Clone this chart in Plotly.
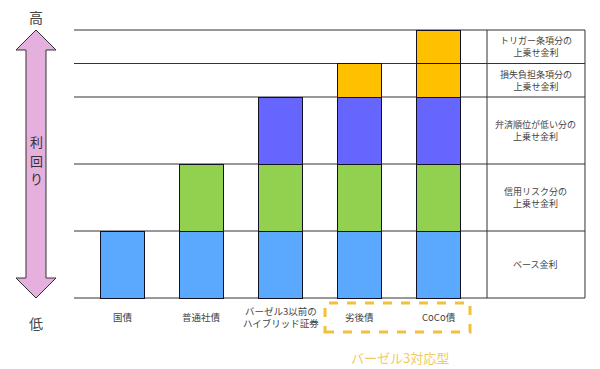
import plotly.graph_objects as go

categories = ["国債", "普通社債", "バーゼル3以前の<br>ハイブリッド証券", "劣後債", "CoCo債"]
base_rate = [2, 2, 2, 2, 2]
credit_premium = [None, 2, 2, 2, 2]
subordination_premium = [None, None, 2, 2, 2]
loss_absorb_premium = [None, None, None, 1, 1]
trigger_premium = [None, None, None, None, 1]
row_labels = ["ベース金利", "信用リスク分の<br>上乗せ金利", "弁済順位が低い分の<br>上乗せ金利",
              "損失負担条項分の<br>上乗せ金利", "トリガー条項分の<br>上乗せ金利"]
row_bounds = [0, 2, 4, 6, 7, 8]
axis_title_chars = ["利", "回", "り"]

W, H = 600, 369
OFF = 8  # page body margin
# plot area in screen pixels: x 70..592, y 26..300
SX0, SX1, SY0, SY1 = 70, 592, 26, 300
ML, MT = SX0 - OFF, SY0 - OFF
PW, PH = SX1 - SX0, SY1 - SY0
MR, MB = W - ML - PW, H - MT - PH

def px(x):
    return (x - SX0) / PW

def py(y):
    return (SY1 - y) / PH

xs = list(range(len(categories)))
series = [
    (base_rate, "#5AA9FF"),
    (credit_premium, "#92D050"),
    (subordination_premium, "#6666FF"),
    (loss_absorb_premium, "#FFC000"),
    (trigger_premium, "#FFC000"),
]

fig = go.Figure()
for vals, col in series:
    fig.add_trace(go.Bar(x=xs, y=vals, width=0.557, marker=dict(color=col, line=dict(color="#111122", width=1)),
                         showlegend=False, hoverinfo="skip"))

x_left, x_tab, x_right = -0.614, 4.614, 5.854
shapes = []
for b in row_bounds:
    shapes.append(dict(type="line", xref="x", yref="y", x0=x_left, x1=x_right, y0=b, y1=b,
                       line=dict(color="#333333", width=1), layer="below"))
for xv in (x_tab, x_right):
    shapes.append(dict(type="line", xref="x", yref="y", x0=xv, x1=xv, y0=0, y1=8,
                       line=dict(color="#333333", width=1), layer="below"))

# double arrow
cx = 36
pts = [(cx, 30), (cx + 20, 50), (cx + 10, 50), (cx + 10, 278), (cx + 20, 278), (cx, 298),
       (cx - 20, 278), (cx - 10, 278), (cx - 10, 50), (cx - 20, 50)]
path = "M " + " L ".join(f"{px(a):.5f},{py(b):.5f}" for a, b in pts) + " Z"
shapes.append(dict(type="path", xref="paper", yref="paper", path=path,
                   fillcolor="#E6B0DE", line=dict(color="#333333", width=1)))
# dashed box
shapes.append(dict(type="rect", xref="paper", yref="paper", x0=px(325), x1=px(470), y0=py(332), y1=py(303),
                   line=dict(color="#F2C03A", width=3, dash="dash")))

font_jp = "Noto Sans CJK JP"
ann = []
for i in range(len(row_labels)):
    ymid = (row_bounds[i] + row_bounds[i + 1]) / 2
    ann.append(dict(x=(x_tab + x_right) / 2, y=ymid, xref="x", yref="y", text=row_labels[i], showarrow=False,
                    xanchor="center", yanchor="middle", borderpad=0,
                    font=dict(family=font_jp, size=9, color="#444444"), align="center"))
for i, c in enumerate(categories):
    ann.append(dict(x=i, y=py(317), xref="x", yref="paper", text=c, showarrow=False,
                    xanchor="center", yanchor="middle", borderpad=0,
                    font=dict(family=font_jp, size=9.5, color="#444444"), align="center"))

def paper_text(x, y, text, size, color):
    ann.append(dict(x=px(x), y=py(y), xref="paper", yref="paper", text=text, showarrow=False,
                    xanchor="center", yanchor="middle", align="center", borderpad=0,
                    font=dict(family=font_jp, size=size, color=color)))

paper_text(400, 357, "バーゼル3対応型", 13, "#EFCB66")
paper_text(cx, 17, "高", 14, "#444444")
paper_text(cx, 323, "低", 14, "#444444")
for k, ch in enumerate(axis_title_chars):
    paper_text(cx, 141 + 19 * k, ch, 13, "#333333")

fig.update_layout(
    width=W, height=H, margin=dict(l=ML, r=MR, t=MT, b=MB),
    paper_bgcolor="white", plot_bgcolor="white", barmode="stack",
    xaxis=dict(range=[(SX0 - 122.5) / 79, (SX1 - 122.5) / 79], showgrid=False, zeroline=False,
               showticklabels=False, ticks=""),
    yaxis=dict(range=[(298 - SY1) / 33.5, (298 - SY0) / 33.5], showgrid=False, zeroline=False,
               showticklabels=False, ticks=""),
    shapes=shapes, annotations=ann,
)
fig.write_html("out.html")
